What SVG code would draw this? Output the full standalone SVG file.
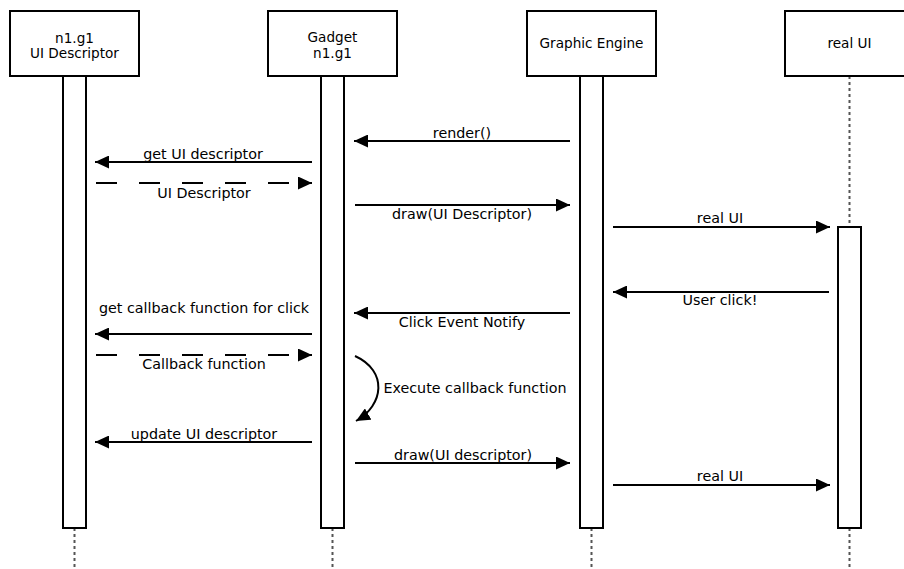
<svg xmlns="http://www.w3.org/2000/svg" width="904" height="569" viewBox="0 0 904 569">
  <style>
    .box { fill: #fff; stroke: #000; stroke-width: 2; }
    .act { fill: #fff; stroke: #000; stroke-width: 2; }
    .life { stroke: #555; stroke-width: 2; stroke-dasharray: 3 3; fill: none; }
    .msg { stroke: #000; stroke-width: 2; fill: none; }
    .ret { stroke: #000; stroke-width: 2; fill: none; stroke-dasharray: 21 22; }
    text { font-family: "DejaVu Sans", "Liberation Sans", sans-serif; font-size: 14.3px; fill: #000; text-anchor: middle; }
    text.head { font-size: 13.6px; }
  </style>
  <defs>
    <marker id="arrow" viewBox="0 0 14 13" refX="14" refY="6.5" markerWidth="14" markerHeight="13" markerUnits="userSpaceOnUse" orient="auto">
      <path d="M0,0 L14,6.5 L0,13 Z" fill="#000"/>
    </marker>
  </defs>

  <rect width="904" height="569" fill="#fff"/>

  <!-- participants -->
  <g id="ui-descriptor">
    <line class="life" x1="74.5" y1="528" x2="74.5" y2="569"/>
    <rect class="act" x="63" y="76" width="23" height="452"/>
    <rect class="box" x="10" y="11" width="129" height="65"/>
    <text class="head" x="74.5" y="43">n1.g1</text>
    <text class="head" x="74.5" y="58">UI Descriptor</text>
  </g>
  <g id="gadget">
    <line class="life" x1="332.5" y1="528" x2="332.5" y2="569"/>
    <rect class="act" x="321" y="76" width="23" height="452"/>
    <rect class="box" x="268" y="11" width="129" height="65"/>
    <text class="head" x="332.5" y="42">Gadget</text>
    <text class="head" x="332.5" y="58">n1.g1</text>
  </g>
  <g id="graphic-engine">
    <line class="life" x1="591.5" y1="528" x2="591.5" y2="569"/>
    <rect class="act" x="580" y="76" width="23" height="452"/>
    <rect class="box" x="527" y="11" width="129" height="65"/>
    <text class="head" x="591.5" y="48">Graphic Engine</text>
  </g>
  <g id="real-ui">
    <line class="life" x1="849.5" y1="76" x2="849.5" y2="227"/>
    <line class="life" x1="849.5" y1="528" x2="849.5" y2="569"/>
    <rect class="act" x="838" y="227" width="23" height="301"/>
    <rect class="box" x="785" y="11" width="129" height="65"/>
    <text class="head" x="849.5" y="48">real UI</text>
  </g>

  <!-- messages -->
  <g id="connectors">
    <line class="msg" x1="570" y1="141" x2="354" y2="141" marker-end="url(#arrow)"/>
    <text x="462" y="138">render()</text>

    <line class="msg" x1="312" y1="162" x2="95" y2="162" marker-end="url(#arrow)"/>
    <text x="203" y="159">get UI descriptor</text>

    <line class="ret" x1="96" y1="183" x2="300" y2="183"/>
    <line class="msg" x1="298" y1="183" x2="312" y2="183" marker-end="url(#arrow)"/>
    <text x="204" y="198">UI Descriptor</text>

    <line class="msg" x1="355" y1="205" x2="570" y2="205" marker-end="url(#arrow)"/>
    <text x="462" y="219">draw(UI Descriptor)</text>

    <line class="msg" x1="613" y1="227" x2="830" y2="227" marker-end="url(#arrow)"/>
    <text x="720" y="223">real UI</text>

    <line class="msg" x1="829" y1="292" x2="613" y2="292" marker-end="url(#arrow)"/>
    <text x="720" y="305">User click!</text>

    <line class="msg" x1="570" y1="313" x2="354" y2="313" marker-end="url(#arrow)"/>
    <text x="462" y="327">Click Event Notify</text>

    <line class="msg" x1="312" y1="334" x2="95" y2="334" marker-end="url(#arrow)"/>
    <text x="204" y="313">get callback function for click</text>

    <line class="ret" x1="96" y1="355" x2="300" y2="355"/>
    <line class="msg" x1="298" y1="355" x2="312" y2="355" marker-end="url(#arrow)"/>
    <text x="204" y="369">Callback function</text>

    <path class="msg" d="M355,356 C388,371 384,405 356,421" marker-end="url(#arrow)"/>
    <text x="475" y="393">Execute callback function</text>

    <line class="msg" x1="312" y1="442" x2="95" y2="442" marker-end="url(#arrow)"/>
    <text x="204" y="439">update UI descriptor</text>

    <line class="msg" x1="355" y1="463" x2="570" y2="463" marker-end="url(#arrow)"/>
    <text x="463" y="460">draw(UI descriptor)</text>

    <line class="msg" x1="613" y1="485" x2="830" y2="485" marker-end="url(#arrow)"/>
    <text x="720" y="481">real UI</text>
  </g>
</svg>
